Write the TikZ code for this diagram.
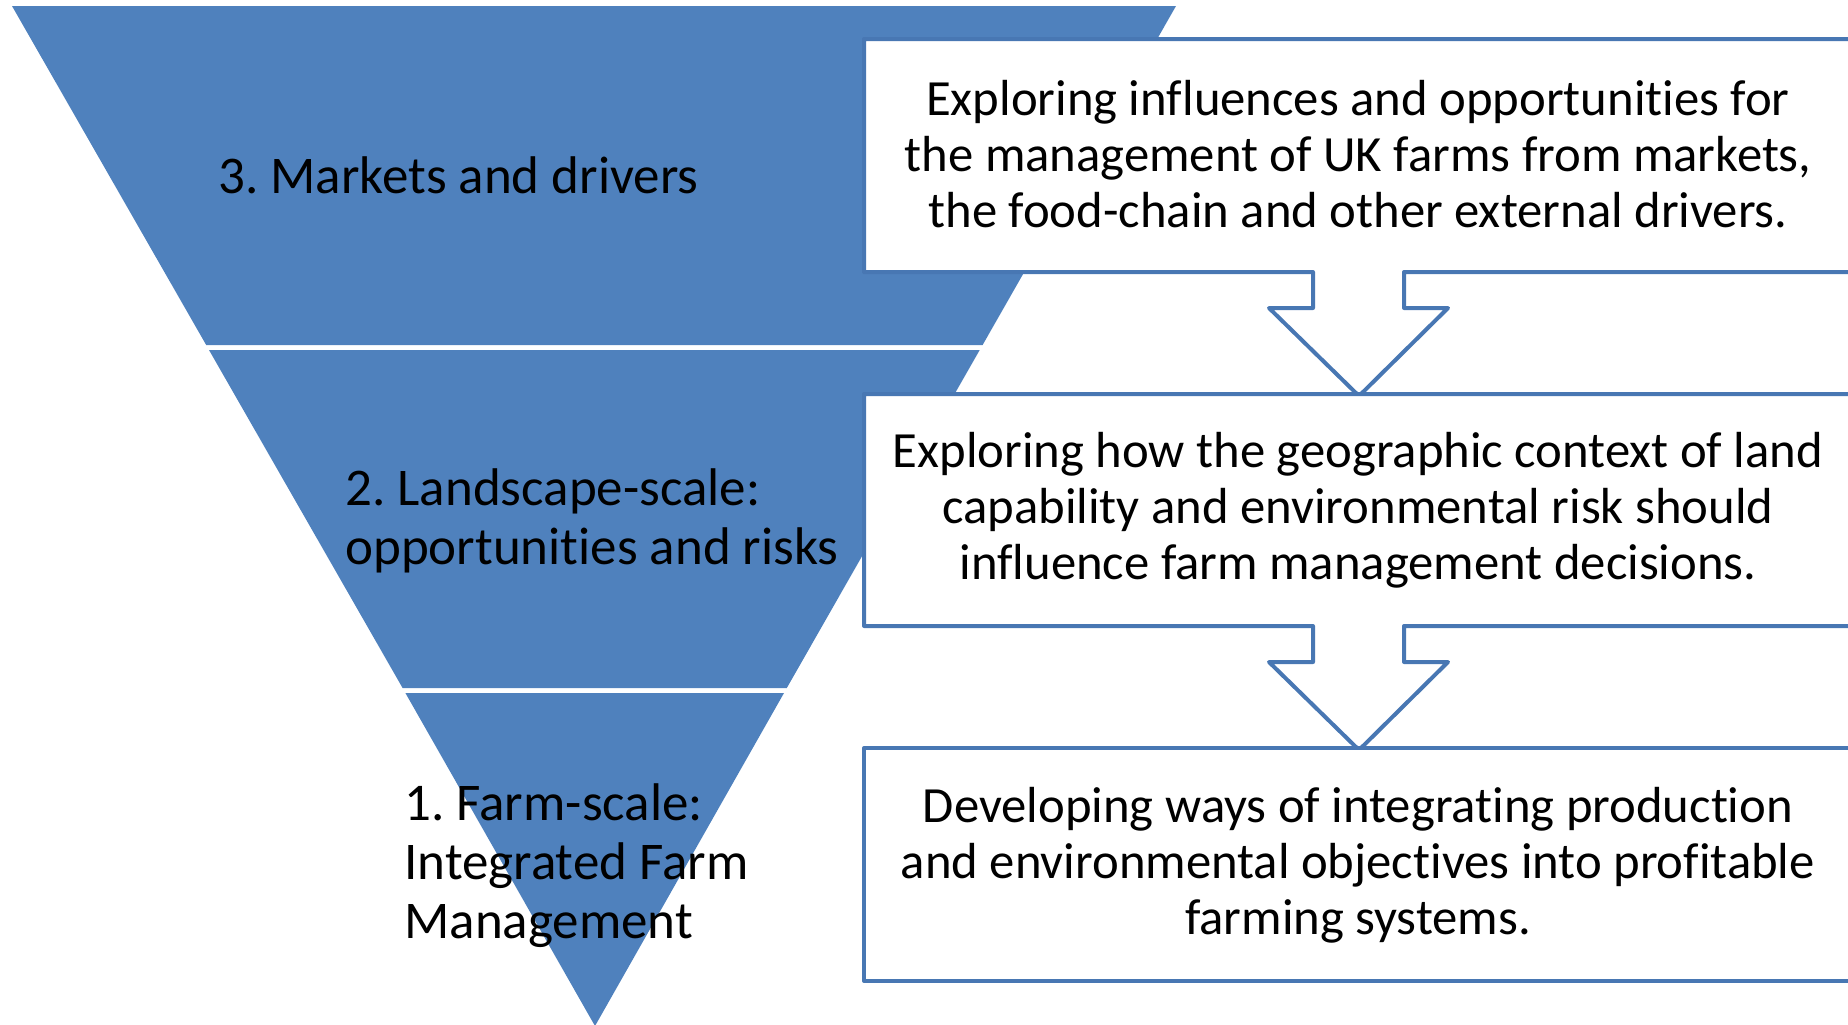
\documentclass[tikz,border=0pt]{standalone}
\usepackage{fontspec}
\setmainfont{Carlito}[Ligatures={NoCommon}]
\definecolor{tri}{HTML}{4F81BD}
\definecolor{edge}{HTML}{4877B3}
\begin{document}
\frenchspacing
\begin{tikzpicture}[x=0.5pt,y=-0.5pt,
  band/.style={fill=tri, draw=none},
  callout/.style={fill=white, draw=edge, line width=2pt, line join=round},
  lbl/.style={font=\fontsize{26.5}{29.5}\selectfont, align=left, anchor=west, inner sep=0pt},
  boxtxt/.style={font=\fontsize{25.35}{28}\selectfont, align=center, inner sep=0pt}]
\useasboundingbox (0,0) rectangle (1848,1024);
\clip (0,0) rectangle (1848,1024);
% pyramid bands
\fill[band] (12,6) -- (1176,6) -- (982.6,345) -- (206.2,345) -- cycle;
\fill[band] (209.0,350) -- (979.7,350) -- (786.8,688) -- (402.6,688) -- cycle;
\fill[band] (405.4,693) -- (784.0,693) -- (595,1026) -- cycle;
% callout boxes
\draw[callout] (864,39) -- (1852,39) -- (1852,272) -- (1404,272) -- (1404,308) -- (1448,308)
  -- (1359,396) -- (1269,308) -- (1313,308) -- (1313,272) -- (864,272) -- cycle;
\draw[callout] (864,394) -- (1852,394) -- (1852,626) -- (1404,626) -- (1404,662) -- (1448,662)
  -- (1359,750) -- (1269,662) -- (1313,662) -- (1313,626) -- (864,626) -- cycle;
\draw[callout] (864,748) rectangle (1852,981);
% box texts
\node[boxtxt] (t3) at (1358,154) {Exploring influences and opportunities for\\the management of UK farms from markets,\\the food-chain and other external drivers.};
\node[boxtxt] (t2) at (1358,510) {Exploring how the geographic context of land\\capability and environmental risk should\\influence farm management decisions.};
\node[boxtxt] (t1) at (1358,865) {Developing ways of integrating production\\and environmental objectives into profitable\\farming systems.};
% level labels
\node[lbl] (l3) at (218,175) {3. Markets and drivers};
\node[lbl] (l2) at (345,521) {2. Landscape-scale:\\opportunities and risks};
\node[lbl] (l1) at (404,866) {1. Farm-scale:\\Integrated Farm\\Management};
\end{tikzpicture}
\end{document}
